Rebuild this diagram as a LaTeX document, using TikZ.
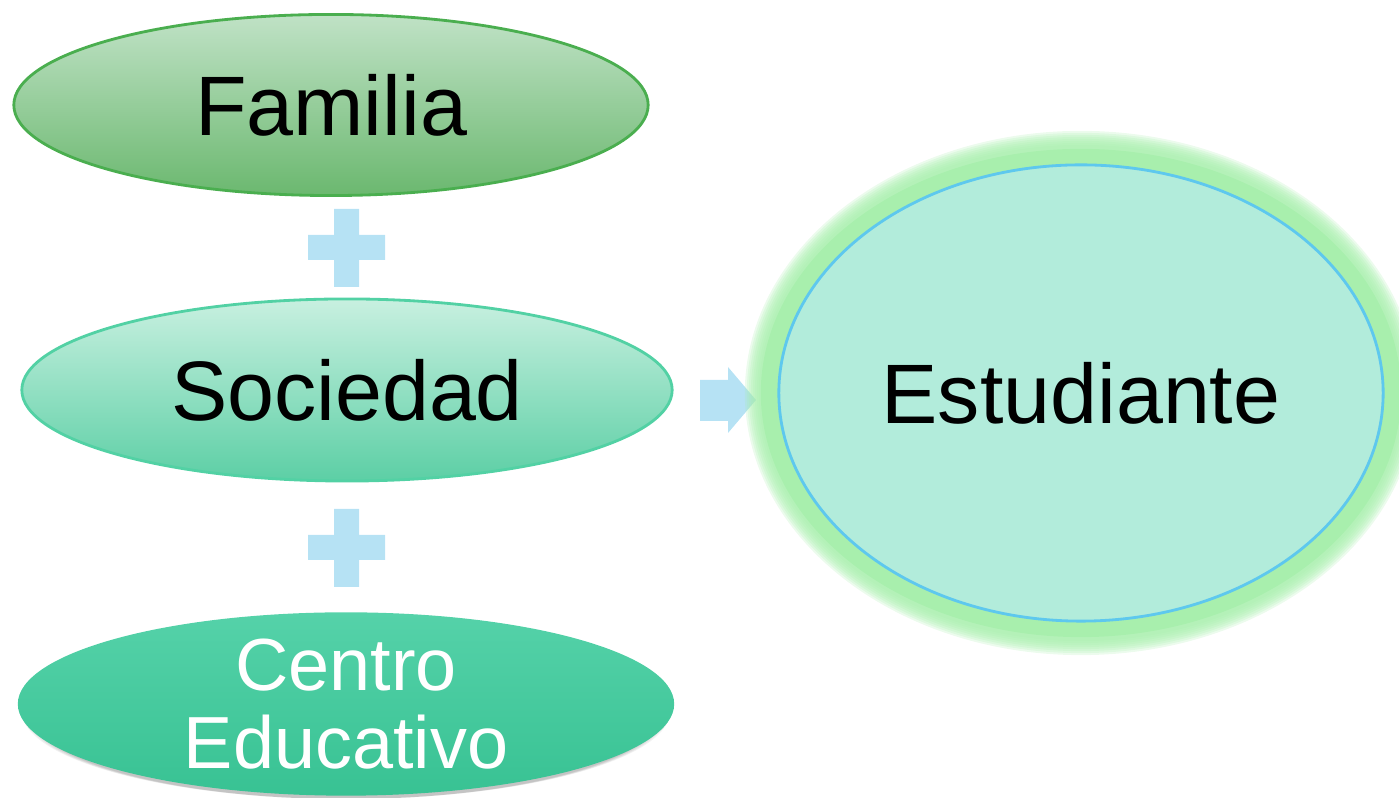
\documentclass[tikz,border=0pt]{standalone}
\usepackage{fontspec}
\setmainfont{Liberation Sans}
\usetikzlibrary{shapes.geometric}
\definecolor{famtop}{HTML}{C0E2C6}
\definecolor{fambot}{HTML}{6BB86F}
\definecolor{famline}{HTML}{4AAE4F}
\definecolor{soctop}{HTML}{C8F0E0}
\definecolor{socbot}{HTML}{5CCFA5}
\definecolor{socline}{HTML}{52D1A4}
\definecolor{centop}{HTML}{55D2A9}
\definecolor{cenbot}{HTML}{38C293}
\definecolor{estfill}{HTML}{B2ECDB}
\definecolor{estline}{HTML}{5EC8EE}
\definecolor{glowc}{HTML}{A8EFAD}
\definecolor{plusc}{HTML}{B6E2F4}

\begin{document}
\begin{tikzpicture}[x=0.01cm, y=-0.01cm,
    blob/.style={ellipse, inner sep=0pt, font=\fontsize{24}{28}\selectfont},
    fam/.style={blob, minimum width=6.34cm, minimum height=1.81cm,
      draw=famline, line width=0.8pt, top color=famtop, bottom color=fambot},
    soc/.style={blob, minimum width=6.5cm, minimum height=1.82cm,
      draw=socline, line width=0.8pt, top color=soctop, bottom color=socbot},
    cen/.style={blob, minimum width=6.56cm, minimum height=1.8cm,
      top color=centop, bottom color=cenbot, text=white, align=center,
      font=\fontsize{21}{22}\selectfont},
    est/.style={blob, minimum width=6.04cm, minimum height=4.56cm,
      draw=estline, line width=0.8pt, fill=estfill}]
    \useasboundingbox (0,0) rectangle (1399,798);
    % plus signs
    \fill[plusc] (334,209) rectangle (359,287) (308,235) rectangle (385,260);
    \fill[plusc] (334,509) rectangle (359,587) (308,535) rectangle (385,560);
    % block arrow
    \fill[plusc] (700,380) -- (728,380) -- (728,367) -- (756,400) -- (728,433)
      -- (728,421) -- (700,421) -- cycle;
    % glow round the student
    \coordinate (ec) at (1081,393);
    \foreach \k in {34,32,...,20}
      \fill[glowc, opacity=0.22] (ec) ellipse [x radius=3.02cm+\k*0.01cm, y radius=2.28cm+\k*0.01cm];
    \fill[glowc] (ec) ellipse [x radius=3.20cm, y radius=2.44cm];
    % shadow under the school
    \foreach \k in {2,4,...,10}
      \fill[black, opacity=0.05] (346,711) ellipse [x radius=3.26cm-\k*0.01cm, y radius=0.88cm];
    \node[fam] (f) at (331,105) {Familia};
    \node[soc] (s) at (347,390) {Sociedad};
    \node[cen] (c) at (346,704) {Centro\\Educativo};
    \node[est] (e) at (ec) {Estudiante};
  \end{tikzpicture}
\end{document}
